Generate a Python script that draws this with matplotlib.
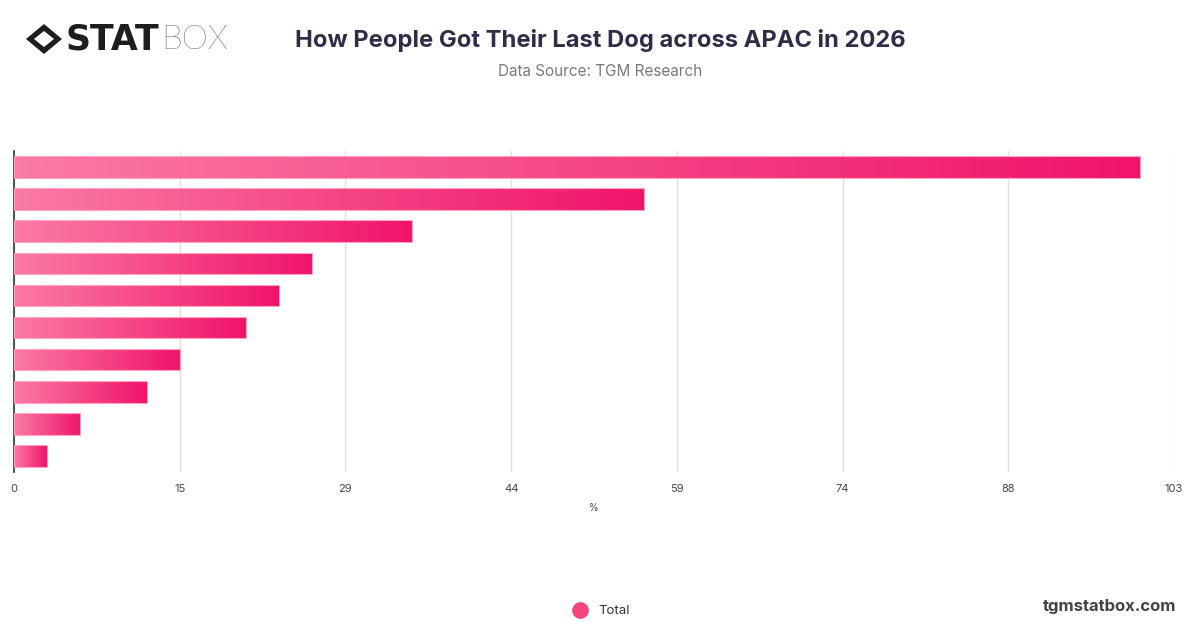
import matplotlib.pyplot as plt
import numpy as np
from matplotlib.colors import LinearSegmentedColormap
from matplotlib.lines import Line2D
from matplotlib.patches import Polygon

plt.rcParams['font.family'] = ['Inter', 'DejaVu Sans']

# data
categories = ['Cat 1', 'Cat 2', 'Cat 3', 'Cat 4', 'Cat 5',
              'Cat 6', 'Cat 7', 'Cat 8', 'Cat 9', 'Cat 10']
values = [100.0, 55.9, 35.3, 26.5, 23.5, 20.6, 14.7, 11.8, 5.9, 2.9]
x_max = 103
tick_vals = [i * x_max / 7 for i in range(8)]
tick_labels = ['0', '15', '29', '44', '59', '74', '88', '103']
series_name = 'Total'

W, H = 1200, 628
fig = plt.figure(figsize=(12, 6.28), dpi=100)
fig.patch.set_facecolor('white')

ax = fig.add_axes([14 / W, 1 - 472 / H, 1160 / W, 321 / H])

cmap = LinearSegmentedColormap.from_list('pinkgrad', ['#fb7aa6', '#f0146a'])
grad = np.linspace(0, 1, 256).reshape(1, -1)

ypos = np.arange(len(values))
bars = ax.barh(ypos, values, height=0.67, facecolor='none',
               edgecolor='#fba4c4', linewidth=0.8, zorder=3)
for b in bars:
    x0, y0 = b.get_x(), b.get_y()
    w, h = b.get_width(), b.get_height()
    im = ax.imshow(grad, extent=[x0, x0 + w, y0 + h, y0], cmap=cmap,
                   aspect='auto', zorder=2, interpolation='bilinear')
    im.set_clip_path(b)
ax.set_xlim(0, x_max)
ax.set_ylim(len(values) - 0.5, -0.5)

ax.set_xticks(tick_vals)
ax.set_xticklabels(tick_labels)
ax.set_yticks([])
ax.tick_params(axis='x', length=0, pad=9, labelsize=8, labelcolor='#444444')
ax.grid(axis='x', color='#e0e0e0', linewidth=1, zorder=0)
ax.set_axisbelow(True)
for s in ['top', 'right', 'bottom']:
    ax.spines[s].set_visible(False)
ax.spines['left'].set_color('#333333')
ax.spines['left'].set_linewidth(1.2)
ax.set_xlabel('%', fontsize=7, color='#444444', labelpad=6)

# title and subtitle
fig.text(600 / W, 1 - 40 / H, 'How People Got Their Last Dog across APAC in 2026',
         ha='center', va='center', fontsize=17.1, fontweight='bold', color='#2f2d4a')
fig.text(600 / W, 1 - 71 / H, 'Data Source: TGM Research',
         ha='center', va='center', fontsize=11, color='#7a7a7a')

# logo
cx, cy = 44, 39
outer = [(cx - 18, cy), (cx, cy - 15), (cx + 18, cy), (cx, cy + 15)]
inner = [(cx - 10, cy), (cx, cy - 8), (cx + 10, cy), (cx, cy + 8)]
fig.patches.append(Polygon([(x / W, 1 - y / H) for x, y in outer], closed=True,
                           transform=fig.transFigure, facecolor='#1e1e1e',
                           edgecolor='none'))
fig.patches.append(Polygon([(x / W, 1 - y / H) for x, y in inner], closed=True,
                           transform=fig.transFigure, facecolor='white',
                           edgecolor='none'))
fig.text(65 / W, 1 - 40 / H, 'STAT', ha='left', va='center', fontsize=25,
         fontweight='heavy', color='#1e1e1e', family=['DejaVu Sans'])
fig.text(161 / W, 1 - 40 / H, 'BOX', ha='left', va='center', fontsize=24,
         fontweight='light', color='#1e1e1e', family=['Lato', 'DejaVu Sans'])

# legend
handle = Line2D([], [], marker='o', linestyle='none', markersize=11,
                markerfacecolor='#f6447f', markeredgecolor='#f6447f')
fig.legend([handle], [series_name], loc='center', bbox_to_anchor=(598 / W, 1 - 611 / H),
           frameon=False, fontsize=9.5, handletextpad=0.4, labelcolor='#333333')

fig.text(1176 / W, 1 - 607 / H, 'tgmstatbox.com', ha='right', va='center',
         fontsize=12, fontweight='bold', color='#444444')

fig.savefig('out.png', dpi=100, facecolor='white')
